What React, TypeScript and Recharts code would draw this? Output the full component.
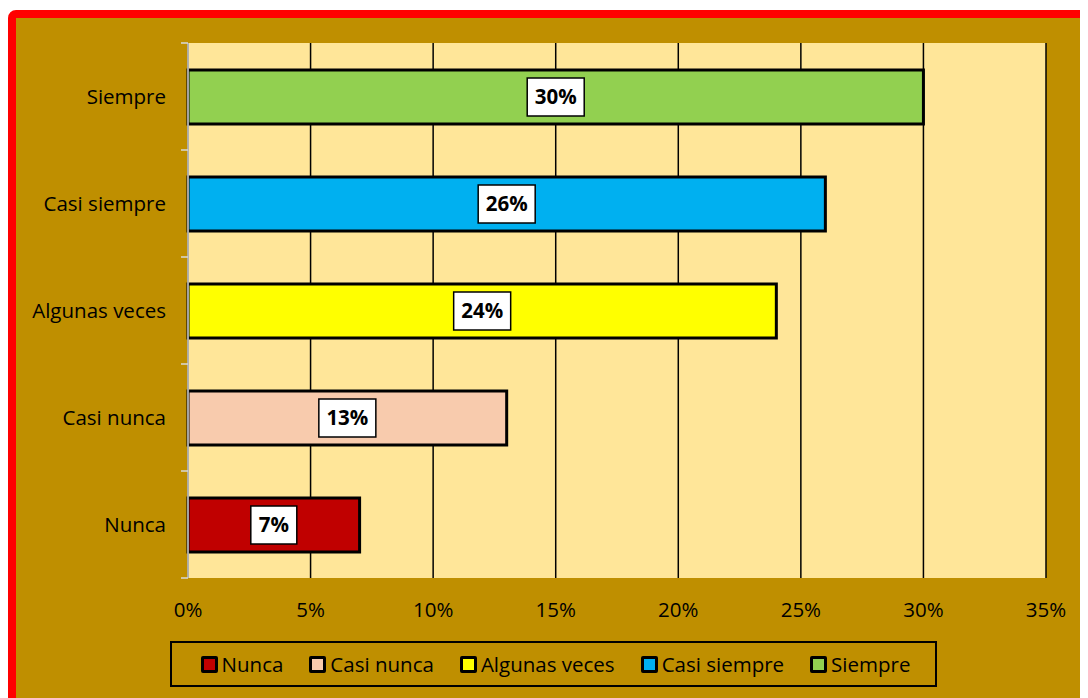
import React from 'react';
import { Bar, BarChart, CartesianGrid, Cell, LabelList, XAxis, YAxis } from 'recharts';

// categories from top to bottom as drawn
const categories = ['Siempre', 'Casi siempre', 'Algunas veces', 'Casi nunca', 'Nunca'];
const percentages = [30, 26, 24, 13, 7];
const barColors = ['#92D050', '#00B0F0', '#FFFF00', '#F8CBAD', '#C00000'];
const xTicks = [0, 5, 10, 15, 20, 25, 30, 35];

// legend goes bottom-to-top order
const legendOrder = ['Nunca', 'Casi nunca', 'Algunas veces', 'Casi siempre', 'Siempre'];

const data = categories.map((name, i) => ({ name, value: percentages[i] }));

const FONT = '"Open Sans", Lato, sans-serif';
const FS = 20.5;
const PLOT_H = 535;
const BAND = PLOT_H / categories.length;

const CategoryTick = (props: any) => {
    const { x, y, payload, index } = props;
    const axisX = x + 8;
    return (
        <g>
            <text x={x - 14} y={y} dy="0.35em" textAnchor="end" fontSize={FS} fontFamily={FONT} fill="#000">
                {payload.value}
            </text>
            <line x1={axisX - 7} x2={axisX} y1={y - BAND / 2} y2={y - BAND / 2} stroke="#D9D9D9" strokeWidth={1.5} />
            {index === categories.length - 1 && (
                <line x1={axisX - 7} x2={axisX} y1={y + BAND / 2} y2={y + BAND / 2} stroke="#D9D9D9" strokeWidth={1.5} />
            )}
        </g>
    );
};

const ValueLabel = (props: any) => {
    const { x, y, width, height, value } = props;
    const cx = x + width / 2;
    const cy = y + height / 2;
    const w = value >= 10 ? 57 : 46;
    return (
        <g>
            <rect x={cx - w / 2} y={cy - 19} width={w} height={38} fill="#fff" stroke="#000" strokeWidth={1.5} />
            <text x={cx} y={cy} dy="0.36em" textAnchor="middle" fontSize={20.5} fontWeight="bold" fontFamily={FONT} fill="#000">
                {`${value}%`}
            </text>
        </g>
    );
};

const LegendBox = () => (
    <div
        style={{
            position: 'absolute',
            left: 162,
            top: 633,
            width: 767,
            height: 46,
            boxSizing: 'border-box',
            border: '2px solid #000',
            display: 'flex',
            alignItems: 'center',
            justifyContent: 'center',
            gap: 26,
            fontFamily: FONT,
            fontSize: FS,
            color: '#000',
            paddingLeft: 4,
        }}
    >
        {legendOrder.map(name => (
            <div key={name} style={{ display: 'flex', alignItems: 'center' }}>
                <span
                    style={{
                        display: 'inline-block',
                        width: 11,
                        height: 11,
                        border: '3px solid #000',
                        borderRadius: 2,
                        background: barColors[categories.indexOf(name)],
                        marginRight: 4,
                    }}
                />
                <span>{name}</span>
            </div>
        ))}
    </div>
);

export default function App() {
    return (
        <div style={{ position: 'relative', width: 1080, height: 690, overflow: 'hidden' }}>
            <div
                style={{
                    position: 'absolute',
                    left: 0,
                    top: 2,
                    width: 1120,
                    height: 740,
                    boxSizing: 'border-box',
                    background: '#BF8F00',
                    border: '8px solid #FF0000',
                    borderRadius: 8,
                }}
            />
            <div style={{ position: 'absolute', left: 0, top: 0 }}>
                <BarChart
                    width={1080}
                    height={690}
                    data={data}
                    layout="vertical"
                    margin={{ top: 35, right: 42, left: 0, bottom: 90 }}
                >
                    <CartesianGrid horizontal={false} stroke="#000" strokeWidth={1.5} fill="#FFE699" />
                    <XAxis
                        type="number"
                        domain={[0, 35]}
                        ticks={xTicks}
                        tickFormatter={v => `${v}%`}
                        axisLine={false}
                        tickLine={false}
                        tickMargin={18}
                        height={30}
                        tick={{ fontSize: FS, fontFamily: FONT, fill: '#000' }}
                        interval={0}
                    />
                    <YAxis
                        type="category"
                        dataKey="name"
                        width={180}
                        axisLine={{ stroke: '#D9D9D9', strokeWidth: 1.5 }}
                        tickLine={false}
                        tick={<CategoryTick />}
                        interval={0}
                    />
                    <Bar dataKey="value" barSize={54} stroke="#000" strokeWidth={3} isAnimationActive={false}>
                        {data.map((d, i) => (
                            <Cell key={d.name} fill={barColors[i]} />
                        ))}
                        <LabelList dataKey="value" content={<ValueLabel />} />
                    </Bar>
                </BarChart>
            </div>
            <LegendBox />
        </div>
    );
}
